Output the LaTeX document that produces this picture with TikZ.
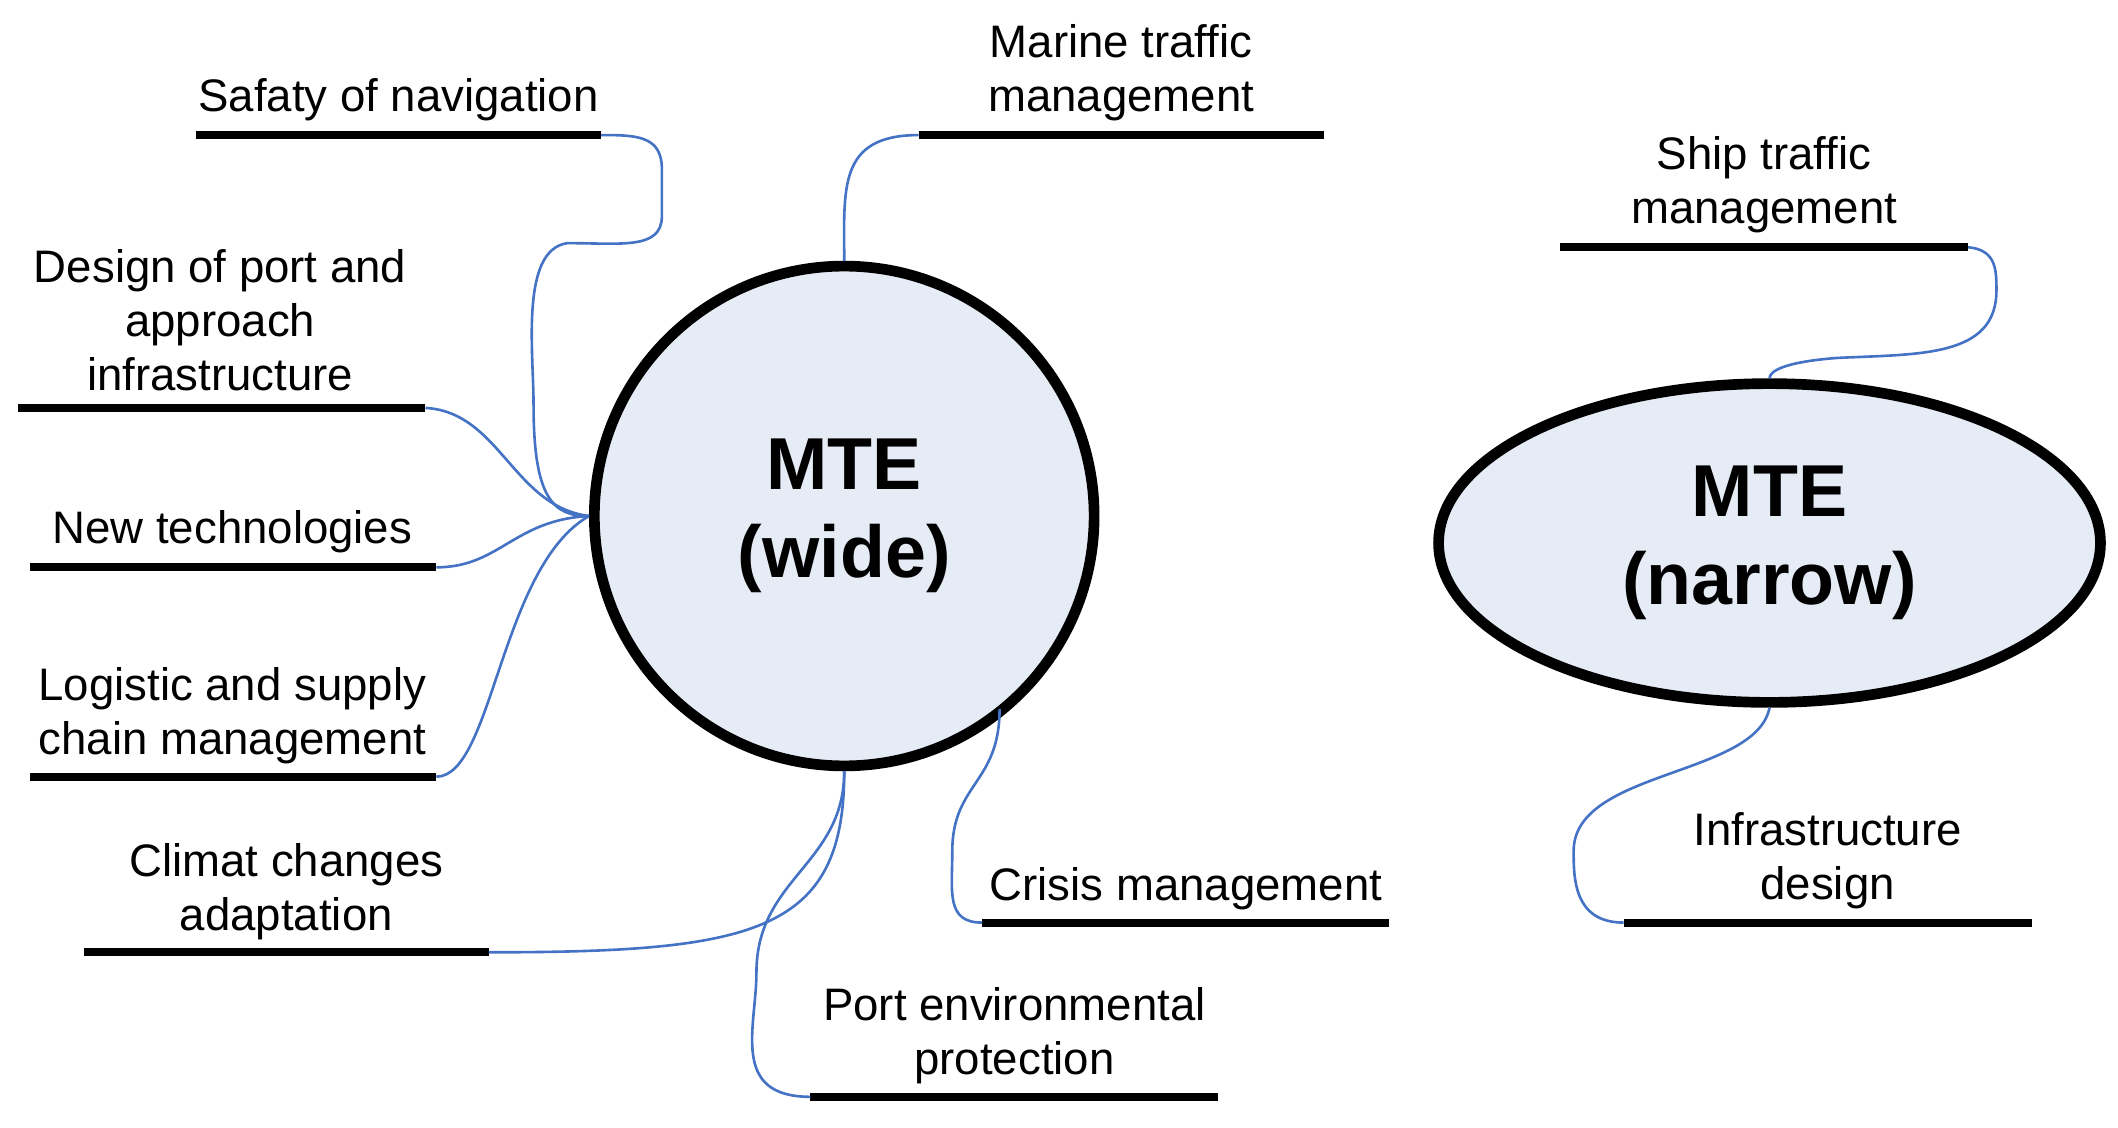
\documentclass[tikz,border=0pt]{standalone}
\usepackage{fontspec}
\setmainfont{Liberation Sans}
\usetikzlibrary{shapes.geometric}
\begin{document}
\begin{tikzpicture}[x=0.02cm,y=-0.02cm,
  bar/.style={line width=3.4pt},
  con/.style={line width=1.1pt, color={rgb,255:red,68;green,114;blue,196}},
  lab/.style={font=\fontsize{19.2}{22.7}\selectfont, align=center, inner sep=0pt},
  big/.style={font=\fontsize{31}{37}\selectfont\bfseries, align=center, draw=black, line width=4.5pt, fill={rgb,255:red,230;green,236;blue,246}}]
\useasboundingbox (0,0) rectangle (1568,835);
\node[big, circle, minimum size=370*0.02cm] (w) at (625,382) {MTE\\(wide)};
\node[big, ellipse, minimum width=490*0.02cm, minimum height=236*0.02cm] (n) at (1310,402) {MTE\\(narrow)};
% bars
\coordinate (s1) at (145,100); \coordinate (s2) at (445,100);
\coordinate (m1) at (680,100); \coordinate (m2) at (980,100);
\coordinate (d1) at (13,302); \coordinate (d2) at (315,302);
\coordinate (t1) at (22,420); \coordinate (t2) at (323,420);
\coordinate (l1) at (22,575); \coordinate (l2) at (323,575);
\coordinate (c1) at (62,705); \coordinate (c2) at (362,705);
\coordinate (p1) at (600,812); \coordinate (p2) at (902,812);
\coordinate (k1) at (727,683); \coordinate (k2) at (1028,683);
\coordinate (h1) at (1155,183); \coordinate (h2) at (1457,183);
\coordinate (i1) at (1202,683); \coordinate (i2) at (1504,683);
\foreach \a in {s,m,d,t,l,c,p,k,h,i} \draw[bar] (\a1) -- (\a2);
% labels
\node[lab] (ls) at (295,74) {Safaty of navigation};
\node[lab] (lm) at (830,54) {Marine traffic\\management};
\node[lab] (ld) at (163,237) {Design of port and\\approach\\infrastructure};
\node[lab] (lt) at (172,394) {New technologies};
\node[lab] (ll) at (172,530) {Logistic and supply\\chain management};
\node[lab] (lc) at (212,660) {Climat changes\\adaptation};
\node[lab] (lp) at (751,767) {Port environmental\\protection};
\node[lab] (lk) at (878,658) {Crisis management};
\node[lab] (lh) at (1306,137) {Ship traffic\\management};
\node[lab] (li) at (1353,637) {Infrastructure\\design};
% connectors
\coordinate (hub) at (w.west);
\draw[con] (s2) .. controls (470,100) and (490,100) .. (490,125) -- (490,160) .. controls (490,185) and (460,180) .. (420,180) .. controls (385,185) and (395,260) .. (395,300) .. controls (395,370) and (410,382) .. (hub);
\draw[con] (d2) .. controls (370,305) and (380,375) .. (hub);
\draw[con] (t2) .. controls (370,420) and (380,385) .. (hub);
\draw[con] (l2) .. controls (365,575) and (370,420) .. (hub);
\draw[con] (m1) .. controls (620,100) and (625,140) .. (w.north);
\draw[con] (c2) .. controls (560,705) and (625,690) .. (w.south);
\draw[con] (p1) .. controls (540,812) and (560,760) .. (560,720) .. controls (560,650) and (625,640) .. (w.south);
\draw[con] (k1) .. controls (700,683) and (705,660) .. (705,630) .. controls (705,580) and (740,580) .. (740,525);
\draw[con] (h2) .. controls (1478,185) and (1478,200) .. (1478,215) .. controls (1478,265) and (1420,262) .. (1360,265) .. controls (1320,268) and (1310,275) .. (n.north);
\draw[con] (i1) .. controls (1165,683) and (1165,650) .. (1165,630) .. controls (1165,570) and (1300,575) .. (n.south);
\end{tikzpicture}
\end{document}
